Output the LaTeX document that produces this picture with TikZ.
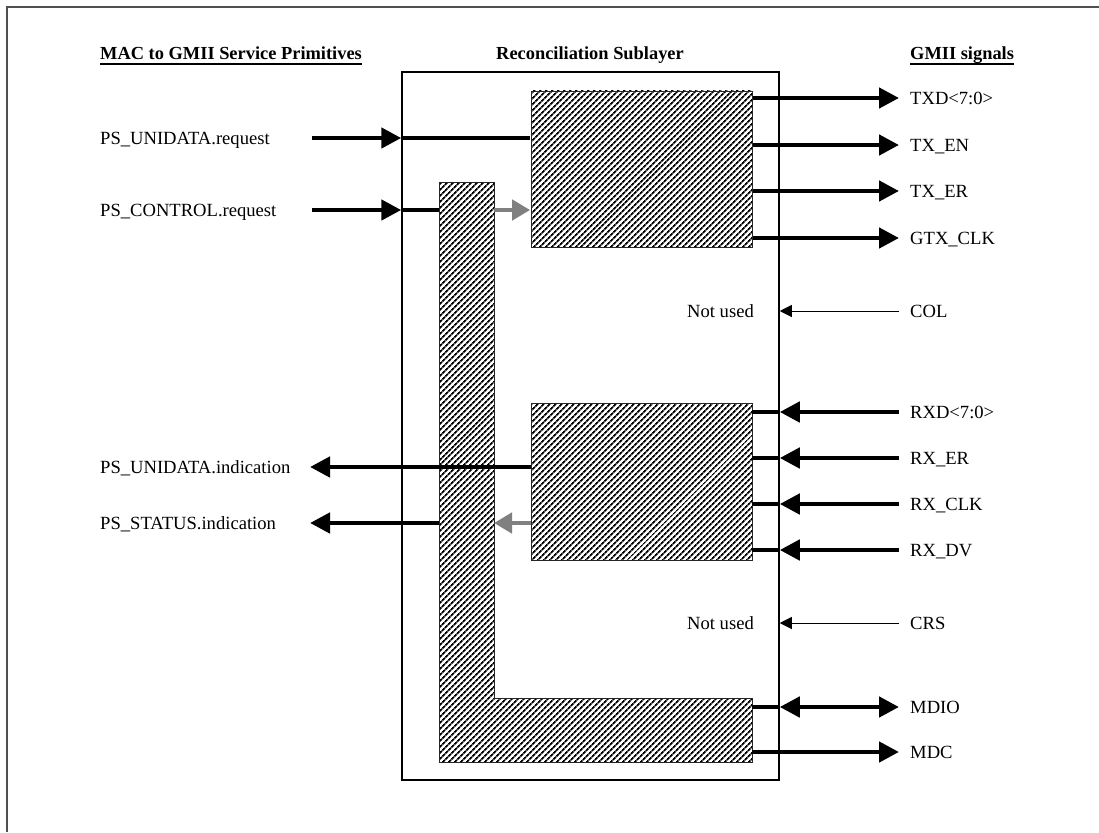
\documentclass[tikz,border=0pt]{standalone}
\usepackage{fontspec}
\setmainfont{Liberation Serif}
\usepackage{tikz}
\usetikzlibrary{arrows.meta,positioning,calc,patterns.meta}
\definecolor{frameGray}{RGB}{80,80,80}
\definecolor{ctlGray}{RGB}{128,128,128}

\begin{document}
\begin{tikzpicture}[x=1pt,y=-1pt,
    lbl/.style={inner sep=0pt, anchor=west, font=\fontsize{18.6}{22}\selectfont, text height=12.5pt, text depth=0pt},
    hdr/.style={inner sep=0pt, anchor=base west, font=\fontsize{18.4}{22}\selectfont\bfseries},
    hatch/.style={draw=black!85, line width=0.8pt, pattern={Lines[angle=45,distance=4pt,line width=1.8pt]}},
    bus/.style={line width=4.6pt},
    busarr/.style={bus, -{Triangle[length=20pt,width=20pt]}},
    busboth/.style={bus, {Triangle[length=20pt,width=20pt]}-{Triangle[length=20pt,width=20pt]}},
    thinarr/.style={line width=1pt, -{Triangle[length=12pt,width=12pt]}},
    ctlarr/.style={ctlGray, line width=4.6pt, -{Triangle[length=18pt,width=20pt]}}]
    \useasboundingbox (0,0) rectangle (1099,832);
    % outer frame (cut off right and bottom)
    \draw[frameGray, line width=1.5pt] (7,832) -- (7,7) -- (1099,7);

    % headers
    \node[hdr] (machdr) at (100,60) {MAC to GMII Service Primitives};
    \node[hdr, anchor=base] (rshdr) at (590,60) {Reconciliation Sublayer};
    \node[hdr] (gmiihdr) at (910,60) {GMII signals};
    \draw[line width=1.4pt] ([yshift=-4pt]machdr.base west) -- ([yshift=-4pt]machdr.base east);
    \draw[line width=1.4pt] ([yshift=-4pt]gmiihdr.base west) -- ([yshift=-4pt]gmiihdr.base east);

    % reconciliation sublayer and its blocks
    \node[draw, line width=1.5pt, minimum width=377pt, minimum height=708pt, inner sep=0pt] (rs) at (590.5,426) {};
    \node[hatch, minimum width=221pt, minimum height=156pt, inner sep=0pt] (txblk) at (641.5,169) {};
    \node[hatch, minimum width=221pt, minimum height=157pt, inner sep=0pt] (rxblk) at (641.5,481.5) {};
    \coordinate (lbarw) at (439,0);
    \coordinate (lbare) at (494,0);
    \coordinate (lend) at (752,0);
    \draw[hatch] (439,182) -- (494,182) -- (494,698) -- (752,698) -- (752,762) -- (439,762) -- cycle;

    % MAC side primitives
    \node[lbl] (unireq) at (100,138) {PS\_UNIDATA.request};
    \node[lbl] (ctlreq) at (100,210) {PS\_CONTROL.request};
    \node[lbl] (uniind) at (100,467) {PS\_UNIDATA.indication};
    \node[lbl] (statind) at (100,523) {PS\_STATUS.indication};
    \coordinate (inx) at (312,0);
    \coordinate (indx) at (310,0);

    \draw[busarr] (unireq -| inx) -- (unireq -| rs.west);
    \draw[bus] (unireq -| rs.west) -- (unireq -| txblk.west);
    \draw[busarr] (ctlreq -| inx) -- (ctlreq -| rs.west);
    \draw[bus] (ctlreq -| rs.west) -- (ctlreq -| lbarw);
    \draw[busarr] (uniind -| rxblk.west) -- (uniind -| indx);
    \draw[busarr] (statind -| lbarw) -- (statind -| indx);
    % internal control paths
    \draw[ctlarr] (ctlreq -| lbare) -- (ctlreq -| txblk.west);
    \draw[ctlarr] (statind -| rxblk.west) -- (statind -| lbare);

    % GMII side signals
    \node[lbl] (txd) at (910,98) {TXD<7:0>};
    \node[lbl] (txen) at (910,145) {TX\_EN};
    \node[lbl] (txer) at (910,191) {TX\_ER};
    \node[lbl] (gtxclk) at (910,238) {GTX\_CLK};
    \node[lbl] (col) at (910,311) {COL};
    \node[lbl] (rxd) at (910,412) {RXD<7:0>};
    \node[lbl] (rxer) at (910,458) {RX\_ER};
    \node[lbl] (rxclk) at (910,504) {RX\_CLK};
    \node[lbl] (rxdv) at (910,550) {RX\_DV};
    \node[lbl] (crs) at (910,623) {CRS};
    \node[lbl] (mdio) at (910,707) {MDIO};
    \node[lbl] (mdc) at (910,752) {MDC};
    \node[lbl, anchor=east] (colnu) at (754,311) {Not used};
    \node[lbl, anchor=east] (crsnu) at (754,623) {Not used};
    \coordinate (outx) at (899,0);

    \draw[busarr] (txd -| txblk.east) -- (txd -| outx);
    \draw[busarr] (txen -| txblk.east) -- (txen -| outx);
    \draw[busarr] (txer -| txblk.east) -- (txer -| outx);
    \draw[busarr] (gtxclk -| txblk.east) -- (gtxclk -| outx);
    \draw[thinarr] (col -| outx) -- (col -| rs.east);

    \draw[busarr] (rxd -| outx) -- (rxd -| rs.east);
    \draw[bus] (rxd -| rs.east) -- (rxd -| rxblk.east);
    \draw[busarr] (rxer -| outx) -- (rxer -| rs.east);
    \draw[bus] (rxer -| rs.east) -- (rxer -| rxblk.east);
    \draw[busarr] (rxclk -| outx) -- (rxclk -| rs.east);
    \draw[bus] (rxclk -| rs.east) -- (rxclk -| rxblk.east);
    \draw[busarr] (rxdv -| outx) -- (rxdv -| rs.east);
    \draw[bus] (rxdv -| rs.east) -- (rxdv -| rxblk.east);
    \draw[thinarr] (crs -| outx) -- (crs -| rs.east);

    % management interface
    \draw[busboth] (mdio -| rs.east) -- (mdio -| outx);
    \draw[bus] (mdio -| lend) -- (mdio -| rs.east);
    \draw[busarr] (mdc -| lend) -- (mdc -| outx);
  \end{tikzpicture}
\end{document}
